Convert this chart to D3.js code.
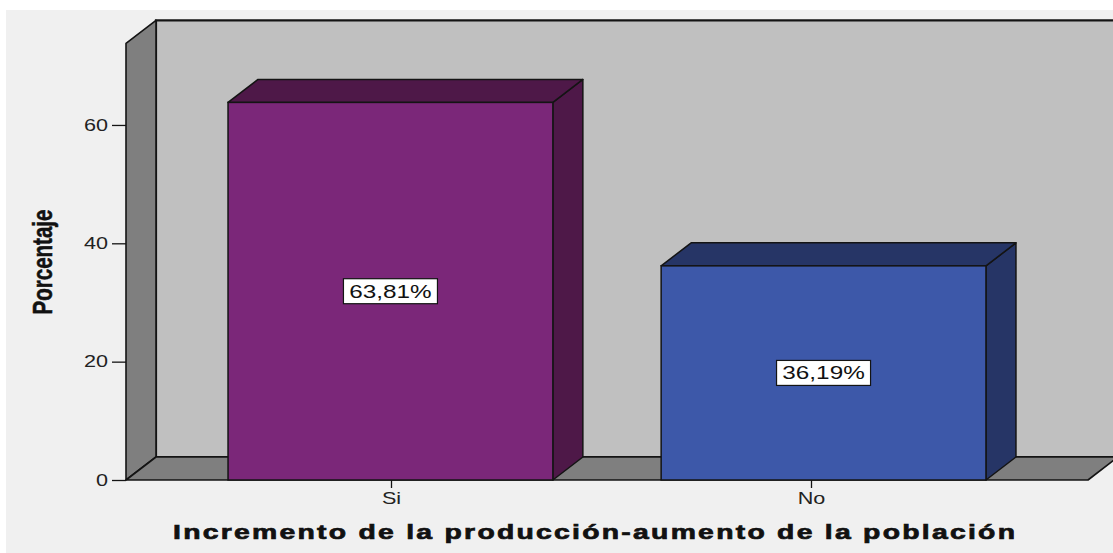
<!DOCTYPE html>
<html>
<head>
<meta charset="utf-8">
<script src="https://cdn.jsdelivr.net/npm/d3@7"></script>
<style>
  html, body { margin: 0; padding: 0; background: #ffffff; }
  svg { display: block; }
</style>
</head>
<body>
<script>
// Survey answers and their share of respondents (%)
const categories = ["Si", "No"];
const percentages = [63.81, 36.19];
const yTicks = [0, 20, 40, 60];
const yTitle = "Porcentaje";
const xTitle = "Incremento de la producción-aumento de la población";

// Face colours for each bar: front face, then side/top shade
const frontColors = ["#7b2779", "#3d58a9"];
const shadeColors = ["#4e1848", "#263566"];

const W = 1113, H = 553;
const DX = 30, DY = 23;     // depth offset of the 3-D box
const SX = 1.35;            // horizontal stretch applied to text
const INK = "#141414";

const svg = d3.select("body").append("svg")
  .attr("width", W).attr("height", H);

// Outer panel
svg.append("rect")
  .attr("x", 6).attr("y", 10).attr("width", W - 6).attr("height", H - 10)
  .attr("fill", "#f0f0f0");

const y = d3.scaleLinear().domain([0, 73.8]).range([480, 43.3]);
const x = d3.scaleBand().domain(categories)
  .range([126, 1088]).paddingInner(0.25).paddingOuter(0.2356);
const xTick = d3.scalePoint().domain(categories).range([391, 811]);

const x0 = x.range()[0], x1 = x.range()[1];
const y0 = y(0), yTop = y(y.domain()[1]);
const poly = pts => pts.map(p => p.join(",")).join(" ");

// Back wall
svg.append("polygon")
  .attr("points", poly([[x0 + DX, yTop - DY], [x1 + DX + 40, yTop - DY],
                        [x1 + DX + 40, y0 - DY], [x0 + DX, y0 - DY]]))
  .attr("fill", "#c0c0c0").attr("stroke", INK).attr("stroke-width", 2.2);

// Left wall
svg.append("polygon")
  .attr("points", poly([[x0, y0], [x0 + DX, y0 - DY], [x0 + DX, yTop - DY], [x0, yTop]]))
  .attr("fill", "#7f7f7f").attr("stroke", INK).attr("stroke-width", 1.6)
  .attr("stroke-linejoin", "round");

// Floor
svg.append("polygon")
  .attr("points", poly([[x0, y0], [x1, y0], [x1 + DX, y0 - DY], [x0 + DX, y0 - DY]]))
  .attr("fill", "#7f7f7f").attr("stroke", INK).attr("stroke-width", 1.6)
  .attr("stroke-linejoin", "round");

// Y axis
const yAxis = svg.append("g")
  .attr("transform", `translate(${x0},0)`)
  .call(d3.axisLeft(y).tickValues(yTicks).tickSize(14).tickPadding(4)
        .tickFormat(d3.format("d")));
yAxis.select(".domain").remove();
yAxis.selectAll(".tick line").attr("stroke", INK).attr("stroke-width", 1.3);
yAxis.selectAll(".tick text")
  .attr("x", -18 / SX)
  .attr("transform", `scale(${SX},1)`)
  .attr("fill", "#222")
  .style("font-family", "'Liberation Sans', Arial, sans-serif")
  .style("font-size", "16px");

// Bars
const data = categories.map((c, i) => ({ cat: c, value: percentages[i], i }));
const bars = svg.append("g").selectAll("g").data(data).join("g");

bars.append("polygon")   // side face
  .attr("points", d => {
    const r = x(d.cat) + x.bandwidth(), t = y(d.value);
    return poly([[r, y0], [r + DX, y0 - DY], [r + DX, t - DY], [r, t]]);
  })
  .attr("fill", d => shadeColors[d.i]).attr("stroke", INK).attr("stroke-width", 1.5)
  .attr("stroke-linejoin", "round");

bars.append("polygon")   // top face
  .attr("points", d => {
    const l = x(d.cat), r = l + x.bandwidth(), t = y(d.value);
    return poly([[l, t], [l + DX, t - DY], [r + DX, t - DY], [r, t]]);
  })
  .attr("fill", d => shadeColors[d.i]).attr("stroke", INK).attr("stroke-width", 1.5)
  .attr("stroke-linejoin", "round");

bars.append("rect")      // front face
  .attr("x", d => x(d.cat))
  .attr("y", d => y(d.value))
  .attr("width", x.bandwidth())
  .attr("height", d => y0 - y(d.value))
  .attr("fill", d => frontColors[d.i]).attr("stroke", INK).attr("stroke-width", 1.5);

// Value labels
const lab = bars.append("g")
  .attr("transform", d => `translate(${x(d.cat) + x.bandwidth() / 2},${(y(d.value) + y0) / 2})`);
lab.append("rect")
  .attr("x", -47).attr("y", -12.5).attr("width", 94).attr("height", 25)
  .attr("fill", "#ffffff").attr("stroke", INK).attr("stroke-width", 1.2);
lab.append("text")
  .attr("transform", `scale(${SX},1)`)
  .attr("text-anchor", "middle").attr("dy", "0.36em")
  .attr("fill", "#111")
  .style("font-family", "'Liberation Sans', Arial, sans-serif")
  .style("font-size", "18px")
  .text(d => d.value.toFixed(2).replace(".", ",") + "%");

// X axis
const xAxis = svg.append("g")
  .attr("transform", `translate(0,${y0})`)
  .call(d3.axisBottom(xTick).tickSize(8));
xAxis.select(".domain").remove();
xAxis.selectAll(".tick line").attr("stroke", INK).attr("stroke-width", 1.3);
xAxis.selectAll(".tick text")
  .attr("y", 24).attr("dy", 0)
  .attr("transform", `scale(${SX},1)`)
  .attr("fill", "#222")
  .style("font-family", "'Liberation Sans', Arial, sans-serif")
  .style("font-size", "16px");

// Axis titles (a thin stroke of the same ink gives the heavy bold look)
svg.append("g")
  .attr("transform", `translate(51.5,262) scale(${SX},1) rotate(-90)`)
  .append("text")
  .attr("text-anchor", "middle")
  .attr("fill", "#111").attr("stroke", "#111").attr("stroke-width", 0.4)
  .style("font-family", "'Liberation Sans', Arial, sans-serif")
  .style("font-weight", "bold")
  .style("font-size", "20.5px")
  .text(yTitle);

svg.append("g")
  .attr("transform", `translate(594,539) scale(${SX},1)`)
  .append("text")
  .attr("text-anchor", "middle")
  .attr("textLength", 842 / SX)
  .attr("lengthAdjust", "spacing")
  .attr("fill", "#111").attr("stroke", "#111").attr("stroke-width", 0.7)
  .style("font-family", "'Liberation Sans', Arial, sans-serif")
  .style("font-weight", "bold")
  .style("font-size", "21px")
  .text(xTitle);
</script>
</body>
</html>
